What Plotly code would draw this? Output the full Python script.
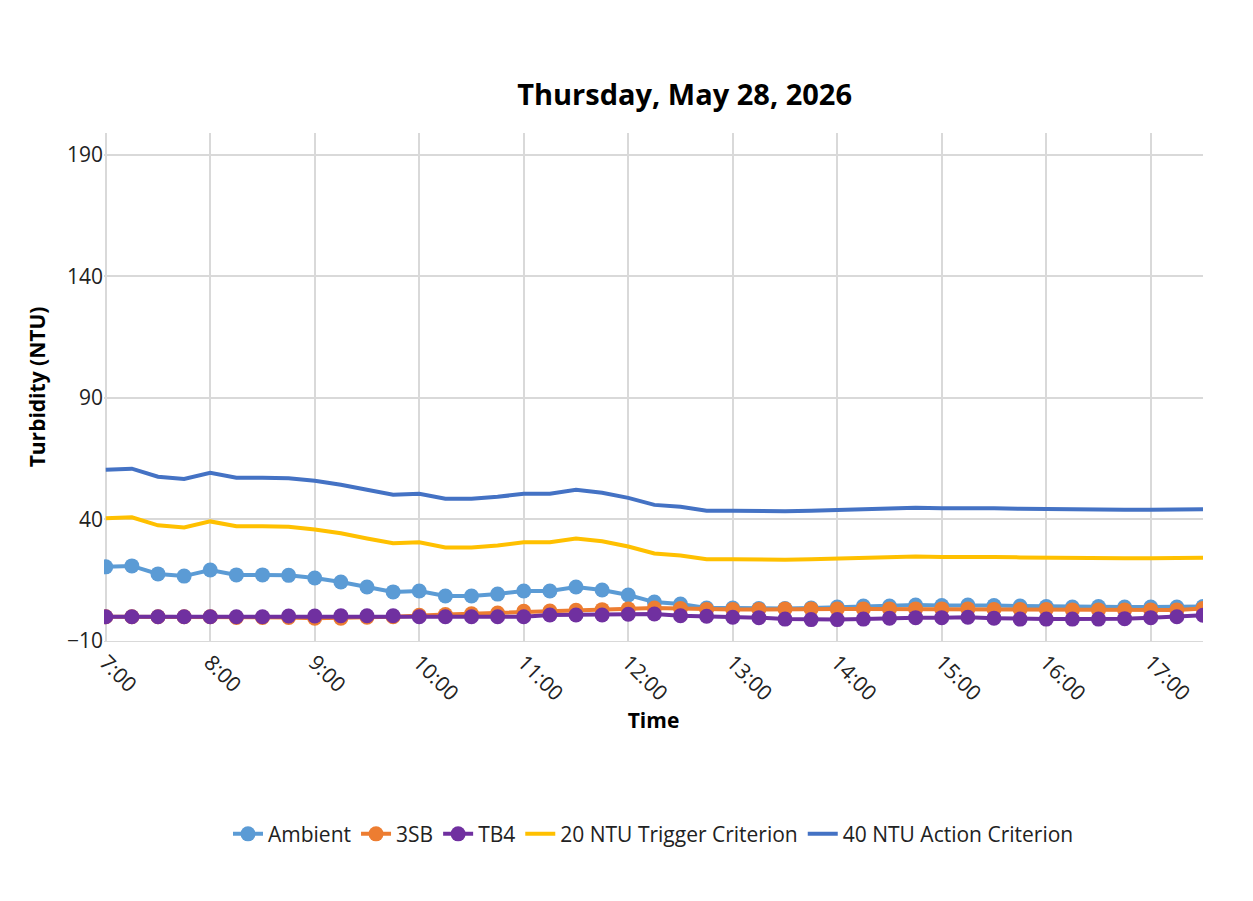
import plotly.graph_objects as go
import pandas as pd

times = pd.date_range("2026-05-28 07:00", "2026-05-28 17:30", freq="15min")

ambient = [20.5, 20.9, 17.6, 16.7, 19.2, 17.2, 17.2, 17.0, 15.9, 14.3, 12.2, 10.2,
           10.6, 8.5, 8.5, 9.3, 10.6, 10.6, 12.2, 11.0, 8.9, 6.0, 5.2, 3.6,
           3.6, 3.4, 3.4, 3.6, 4.0, 4.4, 4.4, 4.8, 4.6, 4.8, 4.6, 4.4, 4.2, 4.0,
           4.2, 4.0, 4.0, 4.0, 4.2]
sb3 = [0.0, 0.0, 0.0, 0.0, 0.0, -0.3, -0.3, -0.3, -0.6, -0.6, -0.2, 0.0,
       0.6, 0.9, 1.2, 1.5, 2.2, 2.3, 2.6, 2.9, 3.2, 3.6, 3.4, 3.0,
       3.0, 3.0, 3.2, 3.2, 3.2, 3.2, 3.2, 3.2, 3.2, 3.2, 3.0, 3.0, 3.0, 2.8,
       2.8, 2.8, 2.8, 2.8, 3.4]
tb4 = [0.0, 0.0, 0.0, 0.0, 0.0, 0.0, 0.0, 0.3, 0.3, 0.4, 0.4, 0.4,
       0.0, 0.0, 0.0, 0.0, 0.0, 0.7, 0.7, 0.7, 1.0, 1.1, 0.4, 0.2,
       -0.2, -0.4, -1.0, -1.2, -1.2, -1.0, -0.6, -0.4, -0.4, -0.2, -0.6, -1.0, -1.0, -1.0,
       -1.0, -0.8, -0.4, 0.0, 0.6]
trigger = [a + 20 for a in ambient]
action = [a + 40 for a in ambient]

fig = go.Figure()
mk = dict(mode="lines+markers", marker=dict(size=15), line=dict(width=4))
fig.add_trace(go.Scatter(x=times, y=ambient, name="Ambient", line_color="#5B9BD5", **mk))
fig.add_trace(go.Scatter(x=times, y=sb3, name="3SB", line_color="#ED7D31", **mk))
fig.add_trace(go.Scatter(x=times, y=tb4, name="TB4", line_color="#7030A0", **mk))
fig.add_trace(go.Scatter(x=times, y=trigger, name="20 NTU Trigger Criterion",
                         mode="lines", line=dict(color="#FFC000", width=4)))
fig.add_trace(go.Scatter(x=times, y=action, name="40 NTU Action Criterion",
                         mode="lines", line=dict(color="#4472C4", width=4)))

fig.update_layout(
    width=1253, height=901,
    font=dict(family="Open Sans, DejaVu Sans", size=21, color="#222"),
    title=dict(text="<b>Thursday, May 28, 2026</b>", x=0.54, y=0.915, font=dict(size=29, color="black")),
    plot_bgcolor="white", paper_bgcolor="white",
    margin=dict(l=96, r=58, t=125, b=268),
    legend=dict(orientation="h", x=0.5, xanchor="center", y=-0.34, font=dict(size=21)),
)
fig.update_xaxes(
    title=dict(text="<b>Time</b>", font=dict(size=21, color="black"), standoff=2),
    tickformat="%-H:%M", dtick=3600000, tickangle=45,
    tick0="2026-05-28 07:00",
    range=["2026-05-28 06:59", "2026-05-28 17:30"],
    showgrid=True, gridcolor="#D9D9D9", gridwidth=2,
    showline=True, linecolor="#D9D9D9",
)
fig.update_yaxes(
    title=dict(text="<b>Turbidity (NTU)</b>", font=dict(size=21, color="black")),
    range=[-10, 199], tickvals=[-10, 40, 90, 140, 190],
    showgrid=True, gridcolor="#D9D9D9", gridwidth=2, zeroline=False,
)
fig.write_html("out.html")
